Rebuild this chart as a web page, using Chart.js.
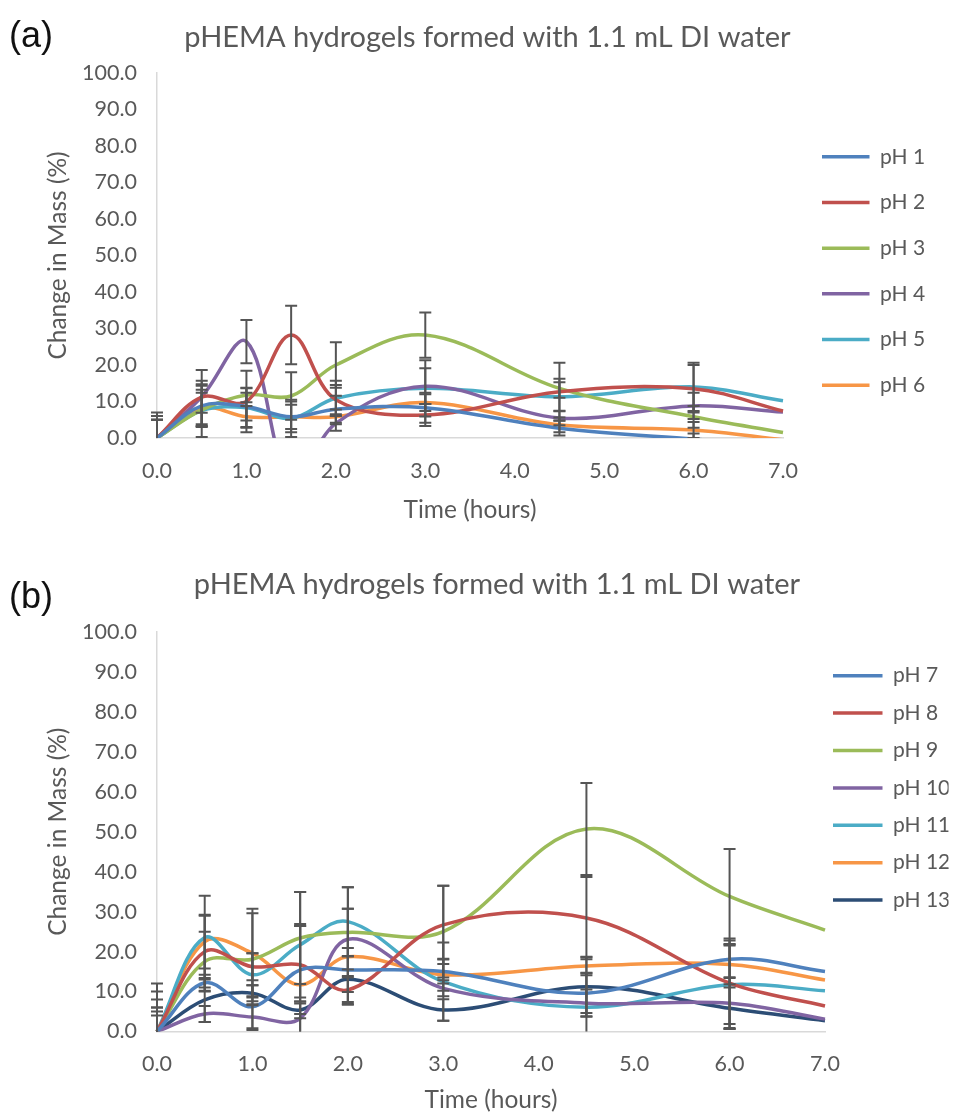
<!DOCTYPE html>
<html>
<head>
<meta charset="utf-8">
<script src="https://cdn.jsdelivr.net/npm/chart.js@4.4.0/dist/chart.umd.min.js"></script>
<style>
  body { margin: 0; background: #fff; width: 957px; height: 1115px; position: relative; overflow: hidden; }
  .panel { position: absolute; left: 0; width: 957px; }
  .tag { position: absolute; left: 9px; z-index: 2; font-family: "Liberation Sans", Arial, sans-serif; font-size: 36px; color: #111; }
</style>
</head>
<body>
<div class="panel" style="top:0;height:540px"><canvas id="chartA"></canvas></div>
<div class="panel" style="top:550px;height:565px"><canvas id="chartB"></canvas></div>
<div class="tag" style="top:14px">(a)</div>
<div class="tag" style="top:575px">(b)</div>
<script>
// sampling times (hours)
var hours = [0, 0.5, 1, 1.5, 2, 3, 4.5, 6, 7];
var xTicks = [0, 1, 2, 3, 4, 5, 6, 7];
var yTicks = [0, 10, 20, 30, 40, 50, 60, 70, 80, 90, 100];
var chartTitle = 'pHEMA hydrogels formed with 1.1 mL DI water';

// (a) pH 1 - 6, change in mass (%)
var ph1 = [0, 8.8, 8.6, 5.8, 7.9, 8.3, 2.7, -0.3, -2];
var ph2 = [0, 11.2, 10, 28.2, 10.5, 6.3, 12.7, 13.5, 7.4];
var ph3 = [0, 7.7, 11.8, 11.5, 20, 28.2, 13.6, 5.8, 1.5];
var ph4 = [0, 11.3, 26.4, -12, 4, 14.2, 5.5, 8.8, 7.1];
var ph5 = [0, 7.5, 8.3, 5.4, 10.9, 13.6, 11.3, 14, 10.2];
var ph6 = [0, 8.2, 5.8, 5.8, 5.8, 9.7, 3.6, 2.2, -0.5];
var ph1Err = [5, 5.5, 3.8, 4.2, 3.7, 4.1, 2, 1.5, 0];
var ph2Err = [7, 7.4, 8.4, 8, 4, 3, 7.9, 6.5, 0];
var ph3Err = [6, 4.7, 2, 6.5, 6.2, 6.2, 2.6, 3, 0];
var ph4Err = [5, 4.4, 5.9, 0, 2, 4.9, 2, 3.6, 0];
var ph5Err = [6, 7.2, 5.3, 5.1, 4.8, 7.7, 4, 6.6, 0];
var ph6Err = [5, 5, 3, 3.3, 2, 2.3, 2, 2.2, 0];

// (b) pH 7 - 13
var ph7 = [0, 12.2, 6.2, 15.4, 15.4, 15, 9.6, 18.1, 15];
var ph8 = [0, 20, 16.2, 16.7, 10.4, 26.7, 28.4, 12.1, 6.4];
var ph9 = [0, 17.5, 18.1, 23.4, 24.8, 25, 50.7, 33.8, 25.4];
var ph10 = [0, 4.4, 3.6, 3.3, 23.1, 10.8, 7.1, 7.1, 3.1];
var ph11 = [0, 23.5, 14.2, 21.7, 27.5, 12.5, 6.1, 11.7, 10.2];
var ph12 = [0, 22.5, 19.6, 11.7, 18.7, 14.2, 16.4, 16.8, 12.9];
var ph13 = [0, 7.9, 9.6, 5.4, 13.1, 5.4, 11.2, 5.8, 2.7];
var ph7Err = [12, 2, 5.4, 11, 5.5, 3, 5, 4.7, 0];
var ph8Err = [10, 9, 3.4, 9.7, 3.5, 9.8, 10.3, 11.2, 0];
var ph9Err = [8, 7.5, 11.5, 11.5, 11.3, 11.5, 11.5, 11.9, 0];
var ph10Err = [6, 2, 3.2, 4.2, 7.6, 2, 3.4, 6.5, 0];
var ph11Err = [6, 10.5, 5.4, 13.2, 8.6, 9.8, 8.6, 9.8, 0];
var ph12Err = [4, 6.7, 11.1, 15.2, 12, 4, 2.3, 5, 0];
var ph13Err = [5, 5.5, 2, 2.1, 5.7, 2.7, 7.4, 5.2, 0];

var namesA = ['pH 1', 'pH 2', 'pH 3', 'pH 4', 'pH 5', 'pH 6'];
var namesB = ['pH 7', 'pH 8', 'pH 9', 'pH 10', 'pH 11', 'pH 12', 'pH 13'];
var colors = ['#4F81BD', '#C0504D', '#9BBB59', '#8064A2', '#4BACC6', '#F79646', '#2C4D75'];
var grey = '#595959';

// error bars, drawn on top of the lines
var errorBars = {
  id: 'errorBars',
  afterDatasetsDraw: function (chart) {
    var ctx = chart.ctx, area = chart.chartArea;
    var xs = chart.scales.x, ys = chart.scales.y;
    ctx.save();
    ctx.beginPath();
    ctx.rect(area.left - 8, area.top - 2, area.right - area.left + 16, area.bottom - area.top + 2);
    ctx.clip();
    ctx.strokeStyle = '#555555';
    ctx.lineWidth = 2;
    chart.data.datasets.forEach(function (ds) {
      ds.data.forEach(function (p, j) {
        var e = ds.errors[j];
        if (!e) return;
        var x = xs.getPixelForValue(p.x);
        var y1 = ys.getPixelForValue(p.y + e);
        var y2 = ys.getPixelForValue(p.y - e);
        ctx.beginPath();
        ctx.moveTo(x, y1); ctx.lineTo(x, y2);
        ctx.moveTo(x - 6, y1); ctx.lineTo(x + 6, y1);
        ctx.moveTo(x - 6, y2); ctx.lineTo(x + 6, y2);
        ctx.stroke();
      });
    });
    ctx.restore();
  }
};

// put the legend where Excel had it
function legendPlace(areaRight, boxX, dy) {
  return {
    id: 'legendPlace',
    beforeInit: function (chart) {
      var fit = chart.legend.fit;
      chart.legend.fit = function () {
        fit.call(this);
        this.width = chart.width - areaRight;
      };
    },
    afterLayout: function (chart) {
      var lg = chart.legend;
      var dx = boxX - lg.options.labels.padding - lg.left;
      lg.left += dx; lg.right += dx;
      lg.top += dy; lg.bottom += dy;
    }
  };
}

function makeChart(id, series, errs, names, c) {
  var datasets = series.map(function (vals, i) {
    return {
      label: names[i],
      data: hours.map(function (t, j) { return {x: t, y: vals[j]}; }),
      errors: errs[i],
      borderColor: colors[i],
      backgroundColor: colors[i],
      borderWidth: 3.5,
      pointRadius: 0,
      tension: 0.36,
      clip: {left: 2, top: 2, right: 2, bottom: 0}
    };
  });
  var font = function (s) { return {family: 'Lato', size: s, weight: 'normal'}; };
  return new Chart(document.getElementById(id), {
    type: 'line',
    data: {datasets: datasets},
    plugins: [errorBars, legendPlace(c.areaRight, c.boxX, c.legendDy)],
    options: {
      responsive: true,
      maintainAspectRatio: false,
      animation: false,
      elements: {line: {capBezierPoints: false}},
      layout: {padding: {left: c.padLeft, right: 0, top: 0, bottom: 0}},
      plugins: {
        title: {
          display: true, text: chartTitle, color: grey, font: font(29),
          padding: {top: c.titleTop, bottom: c.titleBottom}
        },
        legend: {
          position: 'right',
          align: 'center',
          labels: {
            color: grey, font: font(21), padding: c.legendPad,
            usePointStyle: true, pointStyle: 'line', pointStyleWidth: c.boxW
          }
        },
        tooltip: {enabled: false}
      },
      scales: {
        x: {
          type: 'linear', min: 0, max: 7,
          afterBuildTicks: function (s) { s.ticks = xTicks.map(function (v) { return {value: v}; }); },
          afterFit: function (s) { s.height = c.height - c.areaBottom; },
          ticks: {color: grey, font: font(21.5), padding: 20, maxRotation: 0,
            callback: function (v) { return Number(v).toFixed(1); }},
          grid: {display: false, drawTicks: false},
          border: {display: true, color: '#D9D9D9', width: 1.5},
          title: {display: true, text: 'Time (hours)', color: grey, font: font(24.5),
            padding: {top: 0, bottom: c.xTitleBottom}}
        },
        y: {
          min: 0, max: 100,
          afterBuildTicks: function (s) { s.ticks = yTicks.map(function (v) { return {value: v}; }); },
          afterFit: function (s) { s.width = 157 - c.padLeft; },
          ticks: {color: grey, font: font(21.5), padding: 20,
            callback: function (v) { return Number(v).toFixed(1); }},
          grid: {display: false, drawTicks: false},
          border: {display: true, color: '#D9D9D9', width: 1.5},
          title: {display: true, text: 'Change in Mass (%)', color: grey, font: font(24.5),
            padding: {top: c.yTitleTop, bottom: 0}}
        }
      }
    }
  });
}

makeChart('chartA', [ph1, ph2, ph3, ph4, ph5, ph6],
  [ph1Err, ph2Err, ph3Err, ph4Err, ph5Err, ph6Err], namesA,
  {height: 540, padLeft: 18, areaBottom: 438, areaRight: 783, boxX: 822, boxW: 47.5, legendDy: 1, legendPad: 24.7,
   titleTop: 20.6, titleBottom: 17.6, xTitleBottom: 15.3, yTitleTop: 25.3});

makeChart('chartB', [ph7, ph8, ph9, ph10, ph11, ph12, ph13],
  [ph7Err, ph8Err, ph9Err, ph10Err, ph11Err, ph12Err, ph13Err], namesB,
  {height: 565, padLeft: 37, areaBottom: 481.5, areaRight: 825, boxX: 833, boxW: 49.5, legendDy: -44.6, legendPad: 16.4,
   titleTop: 17.6, titleBottom: 29.6, xTitleBottom: 0.3, yTitleTop: 6.3});
</script>
</body>
</html>
